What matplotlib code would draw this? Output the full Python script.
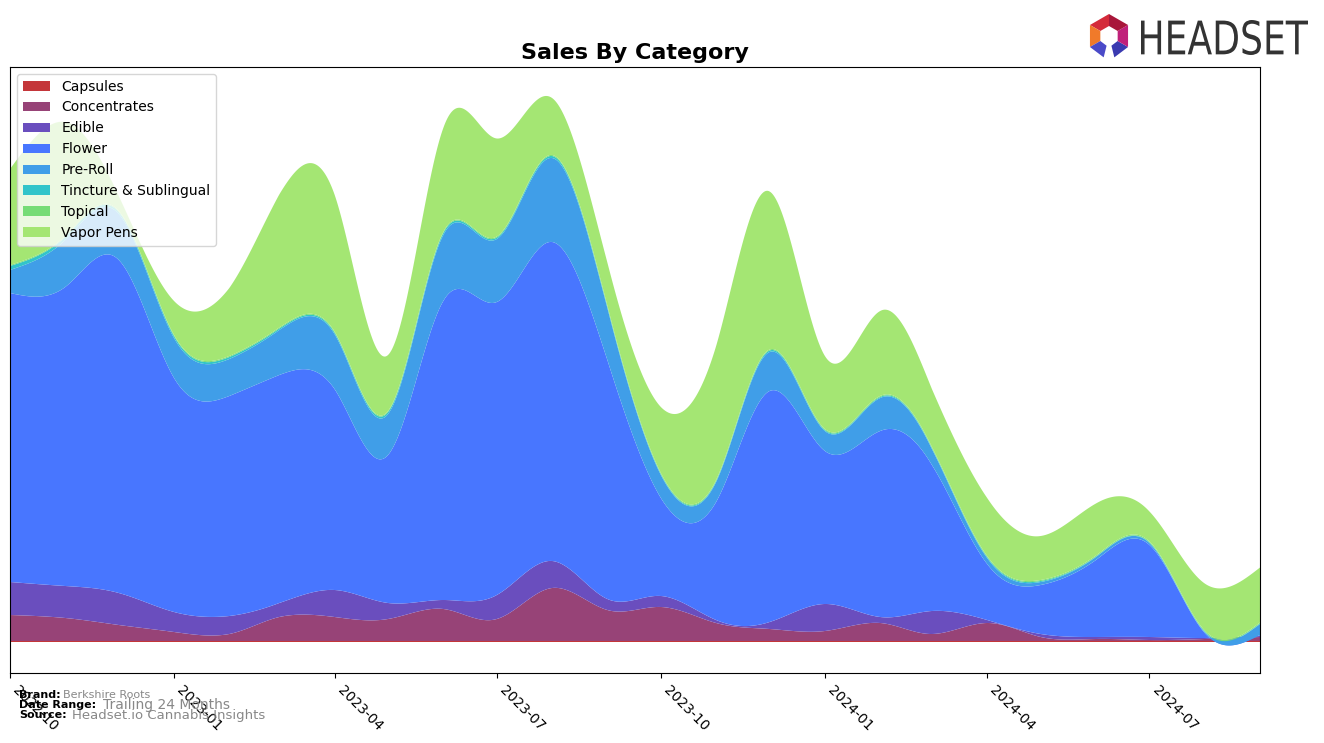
import numpy as np
import matplotlib
matplotlib.use("Agg")
import matplotlib.pyplot as plt
import matplotlib.dates as mdates
from matplotlib.textpath import TextPath
from matplotlib.patches import PathPatch, Polygon
from matplotlib.font_manager import FontProperties
from matplotlib.transforms import Affine2D, IdentityTransform
import datetime as dt

# ---------------- data (monthly, arbitrary units) ----------------
months = ["2022-10", "2022-11", "2022-12", "2023-01", "2023-02", "2023-03",
          "2023-04", "2023-05", "2023-06", "2023-07", "2023-08", "2023-09",
          "2023-10", "2023-11", "2023-12", "2024-01", "2024-02", "2024-03",
          "2024-04", "2024-05", "2024-06", "2024-07", "2024-08", "2024-09"]

categories = ["Capsules", "Concentrates", "Edible", "Flower", "Pre-Roll",
              "Tincture & Sublingual", "Topical", "Vapor Pens"]

capsules = [1, 1, 1, 1, 1, 1, 1, 1, 1, 1, 1, 1, 1, 1, 1, 1, 1, 1, 1, 1, 1, 1, 1, 1]
concentrates = [26, 23, 16, 9, 7, 24, 24, 22, 32, 22, 53, 31, 34, 18, 12, 10, 18, 7, 18, 4, 2, 1, 2, 4]
edible = [33, 32, 32, 20, 18, 14, 27, 16, 9, 24, 27, 11, 11, 3, 7, 27, 6, 23, 3, 3, 2, 3, 1, 1]
flower = [289, 299, 333, 234, 220, 228, 201, 148, 299, 293, 319, 239, 98, 118, 231, 153, 186, 146, 56, 49, 77, 92, 5, 1]
pre_roll = [23, 47, 46, 40, 37, 45, 55, 41, 66, 63, 84, 52, 23, 20, 39, 20, 33, 16, 6, 3, 3, 2, 1, 11]
tincture = [4, 3, 2, 2, 2, 1.5, 1.5, 2, 2, 1.5, 2, 1.5, 1, 1, 1.5, 1, 1, 1, 1, 1, 0.5, 0.5, 0.5, 0.5]
topical = [1, 1, 1, 1, 1, 1, 1, 1, 1, 1, 1, 1, 1, 1, 1, 1, 1, 1, 1, 1, 1, 1, 1, 1]
vapor_pens = [96, 114, 15, 34, 68, 133, 137, 56, 104, 98, 57, 43, 66, 134, 158, 73, 85, 58, 58, 44, 52, 30, 47, 55]

tick_labels = ["2022-10", "2023-01", "2023-04", "2023-07", "2023-10", "2024-01", "2024-04", "2024-07"]

colors = ["#C4363A", "#974377", "#6A4EBE", "#4876FF", "#409EE8", "#32C4CA", "#76DC76", "#A4E673"]

# ---------------- smoothing (natural cubic spline) ----------------
def natural_spline(y, t_fine):
    y = np.asarray(y, dtype=float)
    n = len(y)
    A = np.zeros((n, n))
    b = np.zeros(n)
    A[0, 0] = 1
    A[-1, -1] = 1
    for i in range(1, n - 1):
        A[i, i - 1] = 1
        A[i, i] = 4
        A[i, i + 1] = 1
        b[i] = 6 * (y[i + 1] - 2 * y[i] + y[i - 1])
    M = np.linalg.solve(A, b)
    idx = np.clip(np.floor(t_fine).astype(int), 0, n - 2)
    u = t_fine - idx
    return ((1 - u) * y[idx] + u * y[idx + 1]
            + ((1 - u) ** 3 - (1 - u)) * M[idx] / 6
            + (u ** 3 - u) * M[idx + 1] / 6)

dates = [dt.datetime.strptime(m, "%Y-%m") for m in months]
dnum = mdates.date2num(dates)
t = np.arange(len(months))
t_fine = np.linspace(0, len(months) - 1, 1200)
x_fine = np.interp(t_fine, t, dnum)

series = [capsules, concentrates, edible, flower, pre_roll, tincture, topical, vapor_pens]
smooth = [natural_spline(s, t_fine) for s in series]

# ---------------- figure ----------------
W, H = 1324, 743
fig = plt.figure(figsize=(W / 100, H / 100), dpi=100)
ax = fig.add_axes([10 / W, 1 - 673 / H, 1250 / W, 606 / H])

ax.stackplot(x_fine, *smooth, labels=categories, colors=colors, linewidth=0)

ax.set_xlim(dnum[0], dnum[-1])
ax.set_ylim(-31, 575)
ax.set_yticks([])
tick_dates = [mdates.date2num(dt.datetime.strptime(s, "%Y-%m")) for s in tick_labels]
ax.set_xticks(tick_dates)
ax.set_xticklabels(tick_labels, rotation=-45, ha="left", fontsize=10)

ax.set_title("Sales By Category", fontsize=16, fontweight="bold", pad=6)
ax.legend(loc="upper left", fontsize=10)

# ---------------- footer ----------------
def ftxt(x, y, s, **kw):
    fig.text(x / W, 1 - y / H, s, va="center", ha="left", **kw)

ftxt(19, 695, "Brand:", fontsize=8, fontweight="bold", color="black")
ftxt(63, 695, "Berkshire Roots", fontsize=8, color="#888888")
ftxt(19, 705, "Date Range:", fontsize=8, fontweight="bold", color="black")
ftxt(103, 705, "Trailing 24 Months", fontsize=10, color="#888888")
ftxt(19, 715, "Source:", fontsize=8, fontweight="bold", color="black")
ftxt(72, 715, "Headset.io Cannabis Insights", fontsize=9.5, color="#888888")

# ---------------- logo ----------------
tp = TextPath((0, 0), "HEADSET", prop=FontProperties(family="DejaVu Sans"))
ext = tp.get_extents()
x0, x1, y0, y1 = 1141, 1308, H - 55, H - 20
tr = (Affine2D().translate(-ext.x0, -ext.y0)
      .scale((x1 - x0) / ext.width, (y1 - y0) / ext.height)
      .translate(x0, y0))
fig.patches.append(PathPatch(tr.transform_path(tp), facecolor="#333333",
                             edgecolor="none", transform=IdentityTransform(),
                             figure=fig))

cx, cy = 1109, H - 36
ro, ri = 22, 10
angles = np.deg2rad([90, 150, 210, 270, 330, 30, 90])
seg_cols = ["#D42A3A", "#F07A2A", "#4A4AC8", "#3A3AB0", "#C0207A", "#A8163A"]
for k in range(6):
    a0, a1 = angles[k], angles[k + 1]
    if k == 2:
        a1 = a1 - np.deg2rad(14)
    if k == 3:
        a0 = a0 + np.deg2rad(14)
    pts = [(cx + ro * np.cos(a0), cy + ro * np.sin(a0)),
           (cx + ro * np.cos(a1), cy + ro * np.sin(a1)),
           (cx + ri * np.cos(a1), cy + ri * np.sin(a1)),
           (cx + ri * np.cos(a0), cy + ri * np.sin(a0))]
    fig.patches.append(Polygon(pts, closed=True, facecolor=seg_cols[k],
                               edgecolor="none", transform=IdentityTransform(),
                               figure=fig))

fig.savefig("out.png", dpi=100)
